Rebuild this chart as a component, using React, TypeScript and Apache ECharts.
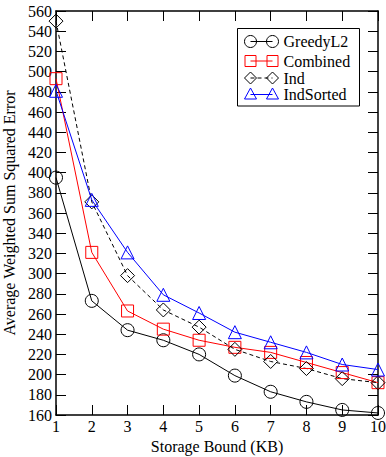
import React, { useEffect, useRef } from "react";
import * as echarts from "echarts";

const xValues = [1, 2, 3, 4, 5, 6, 7, 8, 9, 10];
const greedyL2 = [395, 273, 244, 234, 220, 199, 183, 173, 165, 162];
const combined = [493, 321, 263, 245, 234, 227, 222, 212, 202, 192];
const ind = [550, 371, 298, 264, 247, 225, 213, 206, 196, 192];
const indSorted = [481, 373, 321, 279, 261, 242, 232, 222, 210, 205];
const seriesNames = ["GreedyL2", "Combined", "Ind", "IndSorted"];

const FONT = "serif";

export default function App() {
  const ref = useRef<HTMLDivElement>(null);
  useEffect(() => {
    if (!ref.current) return;
    const chart = echarts.init(ref.current, null, { renderer: "svg" });
    const pairs = (ys: number[]) => xValues.map((x, i) => [x, ys[i]]);
    const hollow = (c: string) => ({ color: "rgba(0,0,0,0)", borderColor: c, borderWidth: 1 });
    const specs = [
      { name: seriesNames[0], data: greedyL2, color: "#000", symbol: "circle", size: 13, dash: "solid" },
      { name: seriesNames[1], data: combined, color: "#ff0000", symbol: "rect", size: 12, dash: "solid" },
      { name: seriesNames[2], data: ind, color: "#000", symbol: "diamond", size: 14, dash: [4, 3] },
      { name: seriesNames[3], data: indSorted, color: "#0000ff", symbol: "triangle", size: 13, dash: "solid" },
    ];
    const lgX = 237.5, lgY = 28.5, lgW = 122, lgH = 77.5;
    const rowY = [41.5, 61, 78, 94.5];
    const m1 = 250.5, m2 = 272.5;
    const legendEls: any[] = [
      { type: "rect", shape: { x: lgX, y: lgY, width: lgW, height: lgH }, style: { fill: "#fff", stroke: "#000", lineWidth: 1 }, z: 100 },
    ];
    const markerEl = (sym: string, cx: number, cy: number, col: string) => {
      const st = { fill: "none", stroke: col, lineWidth: 1 };
      if (sym === "circle") return { type: "circle", shape: { cx, cy, r: 6 }, style: st, z: 101 };
      if (sym === "rect") return { type: "rect", shape: { x: cx - 5.5, y: cy - 5.5, width: 11, height: 11 }, style: st, z: 101 };
      if (sym === "diamond") return { type: "polygon", shape: { points: [[cx, cy - 6], [cx + 6, cy], [cx, cy + 6], [cx - 6, cy]] }, style: st, z: 101 };
      return { type: "polygon", shape: { points: [[cx, cy - 6.5], [cx + 6, cy + 4.5], [cx - 6, cy + 4.5]] }, style: st, z: 101 };
    };
    specs.forEach((s, i) => {
      const y = rowY[i];
      legendEls.push({ type: "line", shape: { x1: m1, y1: y, x2: m2, y2: y }, style: { stroke: s.color, lineWidth: 1, lineDash: s.dash === "solid" ? null : s.dash }, z: 101 });
      legendEls.push(markerEl(s.symbol, m1, y, s.color));
      legendEls.push(markerEl(s.symbol, m2, y, s.color));
      legendEls.push({ type: "text", x: 283.5, y, style: { text: s.name, fill: "#000", fontFamily: FONT, fontSize: 16, verticalAlign: "middle" }, z: 101 });
    });

    const axisCommon = {
      axisLine: { show: true, lineStyle: { color: "#000", width: 1.5 } },
      axisTick: { show: true, inside: true, length: 10, lineStyle: { color: "#000", width: 1 } },
      splitLine: { show: false },
    };
    chart.setOption({
      animation: false,
      backgroundColor: "#fff",
      textStyle: { fontFamily: FONT },
      grid: { left: 56, right: 8, top: 11, bottom: 42, containLabel: false, outerBoundsMode: "none" },
      xAxis: [
        {
          type: "value", min: 1, max: 10, interval: 1, position: "bottom",
          name: "Storage Bound (KB)", nameLocation: "middle", nameGap: 21,
          nameTextStyle: { fontFamily: FONT, fontSize: 16, color: "#000" },
          axisLabel: { fontFamily: FONT, fontSize: 16, color: "#000", margin: 3 },
          ...axisCommon,
        },
        {
          type: "value", min: 1, max: 10, interval: 1, position: "top",
          axisLabel: { show: false }, ...axisCommon,
        },
      ],
      yAxis: [
        {
          type: "value", min: 160, max: 560, interval: 20, position: "left",
          name: "Average Weighted Sum Squared Error", nameLocation: "middle", nameGap: 38,
          nameTextStyle: { fontFamily: FONT, fontSize: 16, color: "#000" },
          axisLabel: { fontFamily: FONT, fontSize: 16, color: "#000", margin: 4 },
          ...axisCommon,
        },
        {
          type: "value", min: 160, max: 560, interval: 20, position: "right",
          axisLabel: { show: false }, ...axisCommon,
        },
      ],
      series: specs.map((s) => ({
        type: "line",
        name: s.name,
        data: pairs(s.data),
        symbol: s.symbol,
        symbolSize: s.size,
        showSymbol: true,
        lineStyle: { color: s.color, width: 1, type: s.dash },
        itemStyle: hollow(s.color),
        clip: false,
      })),
      graphic: legendEls,
    });
    return () => chart.dispose();
  }, []);
  return <div ref={ref} style={{ position: "fixed", left: 0, top: 0, width: 386, height: 457 }} />;
}
